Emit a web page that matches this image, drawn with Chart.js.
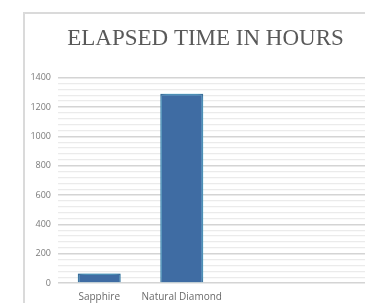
<!DOCTYPE html>
<html>
<head>
<meta charset="utf-8">
<script src="https://cdn.jsdelivr.net/npm/chart.js@4/dist/chart.umd.min.js"></script>
<style>
    body { margin: 0; background: #fff; overflow: hidden; }
    #wrap { position: absolute; left: 0; top: 0; width: 388px; height: 303px; }
    #frame { position: absolute; left: 23px; top: 12px; width: 500px; height: 320px; border: 2px solid #dadada; box-sizing: border-box; }
</style>
</head>
<body>
<div id="frame"></div>
<div id="wrap"><canvas id="timeChart" width="388" height="303"></canvas></div>
<script>
const categories = ['Sapphire', 'Natural Diamond', '', ''];
const hours = [65, 1290, null, null];
const yTicks = [0, 200, 400, 600, 800, 1000, 1200, 1400];

// soft cyan glow behind the bars
const glowPlugin = {
    id: 'glow',
    beforeDatasetDraw(chart) {
        const ctx = chart.ctx;
        ctx.save();
        ctx.shadowColor = 'rgba(120, 220, 245, 1)';
        ctx.shadowBlur = 6;
    },
    afterDatasetDraw(chart) {
        chart.ctx.restore();
    }
};

new Chart(document.getElementById('timeChart'), {
    type: 'bar',
    data: {
        labels: categories,
        datasets: [{
            data: hours,
            backgroundColor: '#3f6ca3',
            borderColor: '#2b5283',
            borderWidth: 1.5,
            categoryPercentage: 1,
            barPercentage: 0.52
        }]
    },
    options: {
        responsive: false,
        animation: false,
        layout: { padding: { left: 23, top: 25, right: 0, bottom: 0 } },
        plugins: {
            legend: { display: false },
            tooltip: { enabled: false },
            title: {
                display: true,
                text: 'ELAPSED TIME IN HOURS',
                color: '#595959',
                font: { family: 'Liberation Serif', size: 23, weight: 'normal' },
                padding: { top: 0, bottom: 25 }
            }
        },
        scales: {
            x: {
                afterFit(scale) { scale.height = 20; },
                grid: { display: false, drawTicks: false },
                border: { display: false },
                ticks: {
                    color: '#6a6a6a',
                    font: { family: 'Open Sans', size: 10 },
                    padding: 8,
                    maxRotation: 0,
                    autoSkip: false
                }
            },
            y: {
                min: 0,
                max: 1400,
                afterFit(scale) { scale.width = 35; },
                border: { display: false },
                grid: {
                    color: ctx => (ctx.tick && ctx.tick.value % 200 === 0) ? '#d4d4d4' : '#ebebeb',
                    lineWidth: ctx => (ctx.tick && ctx.tick.value % 200 === 0) ? 1.5 : 1.2,
                    drawTicks: false
                },
                ticks: {
                    stepSize: 40,
                    autoSkip: false,
                    padding: 7,
                    color: '#7a7a7a',
                    font: { family: 'Open Sans', size: 9 },
                    callback: v => yTicks.includes(v) ? v : ''
                }
            }
        }
    },
    plugins: [glowPlugin]
});
</script>
</body>
</html>
